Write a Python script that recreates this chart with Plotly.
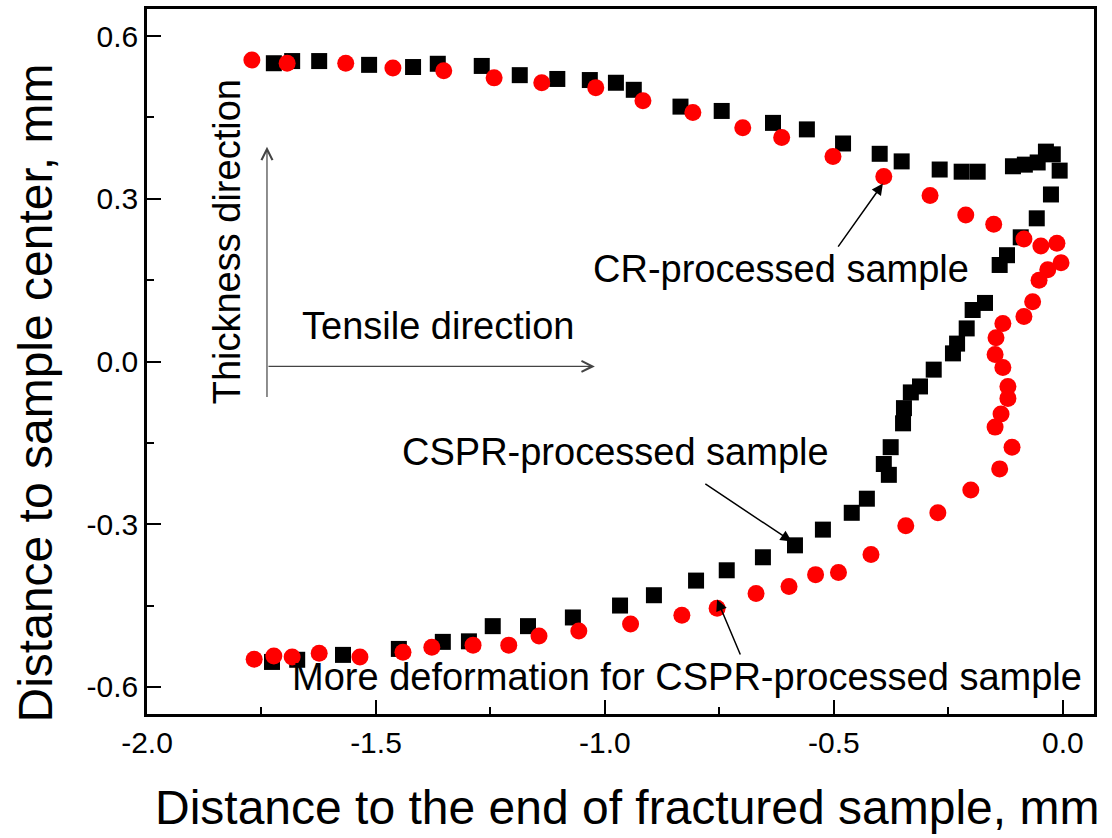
import plotly.graph_objects as go

# Black squares series
sq_x = [-1.723, -1.683, -1.624, -1.515, -1.419, -1.365, -1.269, -1.186, -1.104, -1.033,
        -0.976, -0.937, -0.835, -0.745, -0.633, -0.559, -0.480, -0.400, -0.352, -0.269,
        -0.221, -0.186, -0.109, -0.083, -0.055, -0.037, -0.022, -0.007, -0.026, -0.057,
        -0.092, -0.122, -0.138, -0.170, -0.197, -0.210, -0.231, -0.240, -0.282, -0.312,
        -0.332, -0.347, -0.349, -0.376, -0.391, -0.380, -0.428, -0.461, -0.524, -0.585,
        -0.655, -0.734, -0.801, -0.893, -0.967, -1.070, -1.168, -1.245, -1.297, -1.354,
        -1.450, -1.572, -1.672, -1.727]
sq_y = [0.550, 0.554, 0.554, 0.547, 0.543, 0.549, 0.545, 0.528, 0.521, 0.519,
        0.514, 0.501, 0.470, 0.462, 0.440, 0.428, 0.402, 0.383, 0.369, 0.354,
        0.350, 0.350, 0.360, 0.363, 0.367, 0.387, 0.382, 0.352, 0.308, 0.264,
        0.229, 0.196, 0.178, 0.108, 0.095, 0.061, 0.033, 0.015, -0.015, -0.046,
        -0.057, -0.086, -0.114, -0.158, -0.189, -0.209, -0.253, -0.279, -0.310, -0.339,
        -0.361, -0.385, -0.404, -0.431, -0.450, -0.472, -0.488, -0.488, -0.516, -0.517,
        -0.530, -0.541, -0.550, -0.554]

# Red circles series
ci_x = [-1.771, -1.694, -1.566, -1.463, -1.352, -1.242, -1.138, -1.020, -0.917, -0.808,
        -0.699, -0.614, -0.502, -0.391, -0.290, -0.212, -0.151, -0.085, -0.048, -0.013,
        -0.004, -0.033, -0.052, -0.066, -0.085, -0.131, -0.146, -0.148, -0.131, -0.120,
        -0.120, -0.135, -0.148, -0.111, -0.138, -0.201, -0.273, -0.343, -0.419, -0.490,
        -0.540, -0.598, -0.670, -0.755, -0.832, -0.944, -1.057, -1.144, -1.210, -1.288,
        -1.378, -1.441, -1.535, -1.624, -1.683, -1.723, -1.766]
ci_y = [0.556, 0.550, 0.550, 0.541, 0.536, 0.523, 0.514, 0.505, 0.481, 0.459,
        0.431, 0.413, 0.378, 0.341, 0.306, 0.270, 0.253, 0.226, 0.213, 0.218,
        0.182, 0.169, 0.150, 0.110, 0.083, 0.070, 0.044, 0.013, -0.011, -0.046,
        -0.068, -0.097, -0.121, -0.158, -0.198, -0.237, -0.279, -0.303, -0.356, -0.389,
        -0.393, -0.415, -0.428, -0.455, -0.468, -0.484, -0.497, -0.506, -0.523, -0.523,
        -0.527, -0.536, -0.545, -0.538, -0.545, -0.543, -0.549]

x_tick_vals = [-2.0, -1.5, -1.0, -0.5, 0.0]
x_tick_text = ["-2.0", "-1.5", "-1.0", "-0.5", "0.0"]
x_minor_vals = [-1.75, -1.25, -0.75, -0.25]
y_tick_vals = [-0.6, -0.3, 0.0, 0.3, 0.6]
y_tick_text = ["-0.6", "-0.3", "0.0", "0.3", "0.6"]
y_minor_vals = [-0.45, -0.15, 0.15, 0.45]

x_title = "Distance to the end of fractured sample, mm"
y_title = "Distance to sample center, mm"

FONT = "Liberation Sans, Arial, sans-serif"

fig = go.Figure()
fig.add_trace(go.Scatter(x=sq_x, y=sq_y, mode="markers", name="Squares",
                         marker=dict(symbol="square", size=16, color="black", line=dict(width=0))))
fig.add_trace(go.Scatter(x=ci_x, y=ci_y, mode="markers", name="Circles",
                         marker=dict(symbol="circle", size=17, color="#ff0000", line=dict(width=0))))

axis_common = dict(showgrid=False, zeroline=False, showline=True, linecolor="black", linewidth=2.5,
                   mirror=True, ticks="inside", ticklen=14, tickwidth=2, tickcolor="black")

fig.update_xaxes(range=[-2.0, 0.068], tickmode="array", tickvals=x_tick_vals, ticktext=x_tick_text,
                 tickfont=dict(family=FONT, size=30, color="black"),
                 minor=dict(tickmode="array", tickvals=x_minor_vals, ticks="inside", ticklen=7,
                            tickwidth=2, tickcolor="black"),
                 **axis_common)
fig.update_yaxes(range=[-0.65, 0.65], tickmode="array", tickvals=y_tick_vals, ticktext=y_tick_text,
                 tickfont=dict(family=FONT, size=30, color="black"),
                 minor=dict(tickmode="array", tickvals=y_minor_vals, ticks="inside", ticklen=7,
                            tickwidth=2, tickcolor="black"),
                 **axis_common)

ann_font = dict(family=FONT, size=38, color="black")
annotations = [
    # axis titles
    dict(x=0.507, y=-0.133, xref="paper", yref="paper", text=x_title, showarrow=False,
         xanchor="center", yanchor="middle", font=dict(family=FONT, size=48, color="black")),
    dict(x=-0.118, y=0.455, xref="paper", yref="paper", text=y_title, showarrow=False,
         textangle=-90, xanchor="center", yanchor="middle",
         font=dict(family=FONT, size=48, color="black")),
    # direction arrows
    dict(x=-1.738, y=0.396, ax=-1.738, ay=-0.068, axref="x", ayref="y", xref="x", yref="y",
         text="", showarrow=True, arrowhead=5, arrowsize=1.8, arrowwidth=1.2, arrowcolor="#444444"),
    dict(x=-1.022, y=-0.009, ax=-1.738, ay=-0.009, axref="x", ayref="y", xref="x", yref="y",
         text="", showarrow=True, arrowhead=5, arrowsize=1.8, arrowwidth=1.2, arrowcolor="#444444"),
    dict(x=-1.825, y=0.220, xref="x", yref="y", text="Thickness direction", textangle=-90,
         showarrow=False, font=ann_font),
    dict(x=-1.365, y=0.066, xref="x", yref="y", text="Tensile direction",
         showarrow=False, font=ann_font),
    # pointer arrows
    dict(x=-0.393, y=0.328, ax=-0.493, ay=0.209, axref="x", ayref="y", xref="x", yref="y",
         text="", showarrow=True, arrowhead=2, arrowsize=1.5, arrowwidth=1.5, arrowcolor="black"),
    dict(x=-0.616, y=0.171, xref="x", yref="y", text="CR-processed sample",
         showarrow=False, font=ann_font),
    dict(x=-0.592, y=-0.332, ax=-0.784, ay=-0.224, axref="x", ayref="y", xref="x", yref="y",
         text="", showarrow=True, arrowhead=2, arrowsize=1.5, arrowwidth=1.5, arrowcolor="black"),
    dict(x=-0.978, y=-0.167, xref="x", yref="y", text="CSPR-processed sample",
         showarrow=False, font=ann_font),
    dict(x=-0.755, y=-0.439, ax=-0.703, ay=-0.543, axref="x", ayref="y", xref="x", yref="y",
         text="", showarrow=True, arrowhead=2, arrowsize=1.5, arrowwidth=1.5, arrowcolor="black"),
    dict(x=-0.821, y=-0.582, xref="x", yref="y", text="More deformation for CSPR-processed sample",
         showarrow=False, font=ann_font),
]

fig.update_layout(width=1112, height=838, margin=dict(l=147, r=18, t=6, b=124),
                  plot_bgcolor="white", paper_bgcolor="white", showlegend=False,
                  font=dict(family=FONT, color="black"), annotations=annotations)

fig.write_html("out.html")
